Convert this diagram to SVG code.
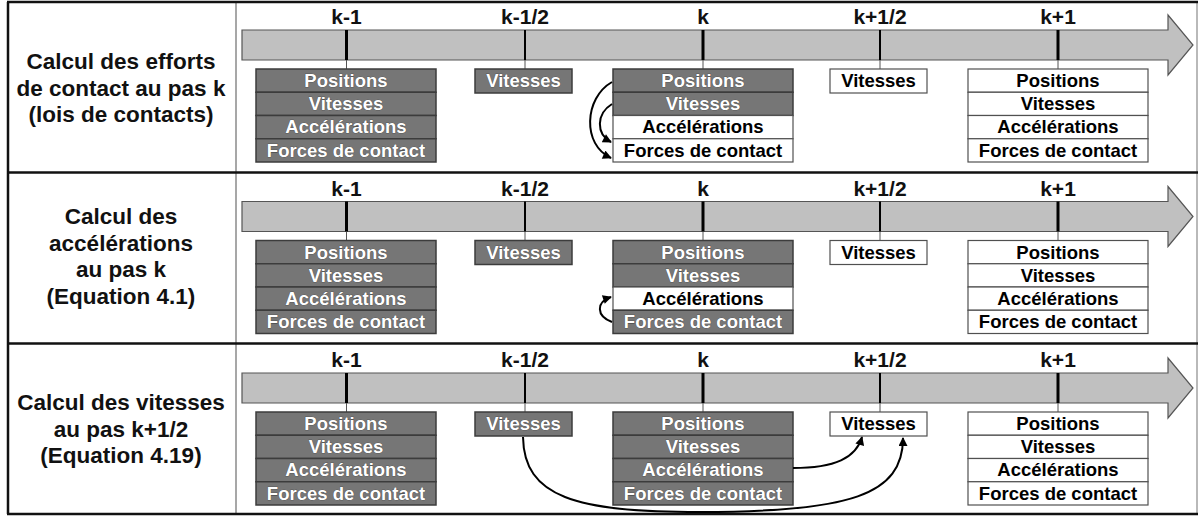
<svg xmlns="http://www.w3.org/2000/svg" width="1204" height="519" viewBox="0 0 1204 519">
  <style>
    .bg{fill:#fff}
    .frame{fill:none;stroke:#111;stroke-width:2.5}
    .col{stroke:#8a8a8a;stroke-width:1.5}
    .edge{stroke:#8a8a8a;stroke-width:1.2}
    .side{font-family:"Liberation Sans",Arial,sans-serif;font-weight:bold;font-size:22.5px;fill:#111;text-anchor:middle}
    .lbl{font-family:"Liberation Sans",Arial,sans-serif;font-weight:bold;font-size:21px;fill:#111;text-anchor:middle}
    .axis{fill:#c0c0c0;stroke:#555;stroke-width:1.2}
    .tick{stroke:#000;stroke-width:3}
    .htick{stroke:#000;stroke-width:2}
    .stem{stroke:#555;stroke-width:1}
    .dk{fill:#767676;stroke:#3c3c3c;stroke-width:1.5}
    .lt{fill:#fff;stroke:#505050;stroke-width:1.2}
    .t{font-family:"Liberation Sans",Arial,sans-serif;font-weight:bold;font-size:18.5px;text-anchor:middle}
    .tw{fill:#fff;stroke:#3a3a3a;stroke-width:0.6;paint-order:stroke}
    .tb{fill:#000}
    .link{fill:none;stroke:#000;stroke-width:2}
  </style>
  <defs>
    <marker id="ah" viewBox="0 0 10 10" refX="9" refY="5" markerWidth="10" markerHeight="9" markerUnits="userSpaceOnUse" orient="auto">
      <path d="M0,0 L10,5 L0,10 z" fill="#000"/>
    </marker>
    <!-- time axis with its five ticks and stems -->
    <g id="axis">
      <path class="axis" d="M242,30 H1168 V15 L1193,45 L1168,75 V60 H242 Z"/>
      <line class="tick" x1="346.5" y1="30" x2="346.5" y2="60"/>
      <line class="htick" x1="525" y1="30" x2="525" y2="60"/>
      <line class="tick" x1="703" y1="30" x2="703" y2="60"/>
      <line class="htick" x1="880" y1="30" x2="880" y2="60"/>
      <line class="tick" x1="1058" y1="30" x2="1058" y2="60"/>
      <line class="stem" x1="346.5" y1="60" x2="346.5" y2="69"/>
      <line class="stem" x1="525" y1="60" x2="525" y2="69"/>
      <line class="stem" x1="703" y1="60" x2="703" y2="69"/>
      <line class="stem" x1="880" y1="60" x2="880" y2="69"/>
      <line class="stem" x1="1058" y1="60" x2="1058" y2="69"/>
      <text class="lbl" x="346.5" y="24">k-1</text>
      <text class="lbl" x="525" y="24">k-1/2</text>
      <text class="lbl" x="703" y="24">k</text>
      <text class="lbl" x="880" y="24">k+1/2</text>
      <text class="lbl" x="1058" y="24">k+1</text>
    </g>
  </defs>

  <rect class="bg" x="0" y="0" width="1204" height="519"/>

  <!-- table frame -->
  <g id="frame">
    <line class="col" x1="236" y1="2" x2="236" y2="514"/>
    <line class="edge" x1="1197" y1="2" x2="1197" y2="514"/>
    <line class="frame" x1="8" y1="2" x2="8" y2="514"/>
    <line class="frame" x1="7" y1="2" x2="1198" y2="2"/>
    <line class="frame" x1="7" y1="172.5" x2="1198" y2="172.5"/>
    <line class="frame" x1="7" y1="343.5" x2="1198" y2="343.5"/>
    <line class="frame" x1="7" y1="514" x2="1198" y2="514"/>
  </g>

  <!-- row 1 -->
  <g id="row1">
    <text class="side" x="121" y="69">Calcul des efforts</text>
    <text class="side" x="121" y="95.5">de contact au pas k</text>
    <text class="side" x="121" y="122">(lois de contacts)</text>
    <use href="#axis"/>
    <g id="r1-km1">
      <rect class="dk" x="256" y="69" width="180" height="23.25"/>
      <rect class="dk" x="256" y="92.25" width="180" height="23.25"/>
      <rect class="dk" x="256" y="115.5" width="180" height="23.25"/>
      <rect class="dk" x="256" y="138.75" width="180" height="23.25"/>
      <text class="t tw" x="346" y="87">Positions</text>
      <text class="t tw" x="346" y="110">Vitesses</text>
      <text class="t tw" x="346" y="133">Accélérations</text>
      <text class="t tw" x="346" y="156.5">Forces de contact</text>
    </g>
    <g id="r1-kmh">
      <rect class="dk" x="475" y="69" width="97" height="24"/>
      <text class="t tw" x="523.5" y="87">Vitesses</text>
    </g>
    <g id="r1-k">
      <rect class="dk" x="613" y="69" width="180" height="23.25"/>
      <rect class="dk" x="613" y="92.25" width="180" height="23.25"/>
      <rect class="lt" x="613" y="115.5" width="180" height="23.25"/>
      <rect class="lt" x="613" y="138.75" width="180" height="23.25"/>
      <text class="t tw" x="703" y="87">Positions</text>
      <text class="t tw" x="703" y="110">Vitesses</text>
      <text class="t tb" x="703" y="133">Accélérations</text>
      <text class="t tb" x="703" y="156.5">Forces de contact</text>
    </g>
    <g id="r1-kph">
      <rect class="lt" x="830" y="69" width="97" height="24"/>
      <text class="t tb" x="878.5" y="87">Vitesses</text>
    </g>
    <g id="r1-kp1">
      <rect class="lt" x="968" y="69" width="180" height="23.25"/>
      <rect class="lt" x="968" y="92.25" width="180" height="23.25"/>
      <rect class="lt" x="968" y="115.5" width="180" height="23.25"/>
      <rect class="lt" x="968" y="138.75" width="180" height="23.25"/>
      <text class="t tb" x="1058" y="87">Positions</text>
      <text class="t tb" x="1058" y="110">Vitesses</text>
      <text class="t tb" x="1058" y="133">Accélérations</text>
      <text class="t tb" x="1058" y="156.5">Forces de contact</text>
    </g>
  </g>

  <!-- row 2 -->
  <g id="row2">
    <text class="side" x="121" y="224">Calcul des</text>
    <text class="side" x="121" y="250.5">accélérations</text>
    <text class="side" x="121" y="277">au pas k</text>
    <text class="side" x="121" y="303.5">(Equation 4.1)</text>
    <g transform="translate(0,171.5)">
      <use href="#axis"/>
      <g id="r2-km1">
        <rect class="dk" x="256" y="69" width="180" height="23.25"/>
        <rect class="dk" x="256" y="92.25" width="180" height="23.25"/>
        <rect class="dk" x="256" y="115.5" width="180" height="23.25"/>
        <rect class="dk" x="256" y="138.75" width="180" height="23.25"/>
        <text class="t tw" x="346" y="87">Positions</text>
        <text class="t tw" x="346" y="110">Vitesses</text>
        <text class="t tw" x="346" y="133">Accélérations</text>
        <text class="t tw" x="346" y="156.5">Forces de contact</text>
      </g>
      <g id="r2-kmh">
        <rect class="dk" x="475" y="69" width="97" height="24"/>
        <text class="t tw" x="523.5" y="87">Vitesses</text>
      </g>
      <g id="r2-k">
        <rect class="dk" x="613" y="69" width="180" height="23.25"/>
        <rect class="dk" x="613" y="92.25" width="180" height="23.25"/>
        <rect class="lt" x="613" y="115.5" width="180" height="23.25"/>
        <rect class="dk" x="613" y="138.75" width="180" height="23.25"/>
        <text class="t tw" x="703" y="87">Positions</text>
        <text class="t tw" x="703" y="110">Vitesses</text>
        <text class="t tb" x="703" y="133">Accélérations</text>
        <text class="t tw" x="703" y="156.5">Forces de contact</text>
      </g>
      <g id="r2-kph">
        <rect class="lt" x="830" y="69" width="97" height="24"/>
        <text class="t tb" x="878.5" y="87">Vitesses</text>
      </g>
      <g id="r2-kp1">
        <rect class="lt" x="968" y="69" width="180" height="23.25"/>
        <rect class="lt" x="968" y="92.25" width="180" height="23.25"/>
        <rect class="lt" x="968" y="115.5" width="180" height="23.25"/>
        <rect class="lt" x="968" y="138.75" width="180" height="23.25"/>
        <text class="t tb" x="1058" y="87">Positions</text>
        <text class="t tb" x="1058" y="110">Vitesses</text>
        <text class="t tb" x="1058" y="133">Accélérations</text>
        <text class="t tb" x="1058" y="156.5">Forces de contact</text>
      </g>
    </g>
  </g>

  <!-- row 3 -->
  <g id="row3">
    <text class="side" x="121" y="410">Calcul des vitesses</text>
    <text class="side" x="121" y="436.5">au pas k+1/2</text>
    <text class="side" x="121" y="463">(Equation 4.19)</text>
    <g transform="translate(0,343)">
      <use href="#axis"/>
      <g id="r3-km1">
        <rect class="dk" x="256" y="69" width="180" height="23.25"/>
        <rect class="dk" x="256" y="92.25" width="180" height="23.25"/>
        <rect class="dk" x="256" y="115.5" width="180" height="23.25"/>
        <rect class="dk" x="256" y="138.75" width="180" height="23.25"/>
        <text class="t tw" x="346" y="87">Positions</text>
        <text class="t tw" x="346" y="110">Vitesses</text>
        <text class="t tw" x="346" y="133">Accélérations</text>
        <text class="t tw" x="346" y="156.5">Forces de contact</text>
      </g>
      <g id="r3-kmh">
        <rect class="dk" x="475" y="69" width="97" height="24"/>
        <text class="t tw" x="523.5" y="87">Vitesses</text>
      </g>
      <g id="r3-k">
        <rect class="dk" x="613" y="69" width="180" height="23.25"/>
        <rect class="dk" x="613" y="92.25" width="180" height="23.25"/>
        <rect class="dk" x="613" y="115.5" width="180" height="23.25"/>
        <rect class="dk" x="613" y="138.75" width="180" height="23.25"/>
        <text class="t tw" x="703" y="87">Positions</text>
        <text class="t tw" x="703" y="110">Vitesses</text>
        <text class="t tw" x="703" y="133">Accélérations</text>
        <text class="t tw" x="703" y="156.5">Forces de contact</text>
      </g>
      <g id="r3-kph">
        <rect class="lt" x="830" y="69" width="97" height="24"/>
        <text class="t tb" x="878.5" y="87">Vitesses</text>
      </g>
      <g id="r3-kp1">
        <rect class="lt" x="968" y="69" width="180" height="23.25"/>
        <rect class="lt" x="968" y="92.25" width="180" height="23.25"/>
        <rect class="lt" x="968" y="115.5" width="180" height="23.25"/>
        <rect class="lt" x="968" y="138.75" width="180" height="23.25"/>
        <text class="t tb" x="1058" y="87">Positions</text>
        <text class="t tb" x="1058" y="110">Vitesses</text>
        <text class="t tb" x="1058" y="133">Accélérations</text>
        <text class="t tb" x="1058" y="156.5">Forces de contact</text>
      </g>
    </g>
  </g>

  <!-- dependency arrows -->
  <g id="connectors">
    <path class="link" marker-end="url(#ah)" d="M612,82 C584,98 582,145 611,158"/>
    <path class="link" marker-end="url(#ah)" d="M612,104 C596,114 596,134 611,142"/>
    <path class="link" marker-end="url(#ah)" d="M612,322 C596,316 596,302 611,297"/>
    <path class="link" marker-end="url(#ah)" d="M793,468 C835,468 856,458 862,437"/>
    <path class="link" marker-end="url(#ah)" d="M523,437 C524,497 575,512 700,512 C850,512 903,495 903,438"/>
  </g>
</svg>
